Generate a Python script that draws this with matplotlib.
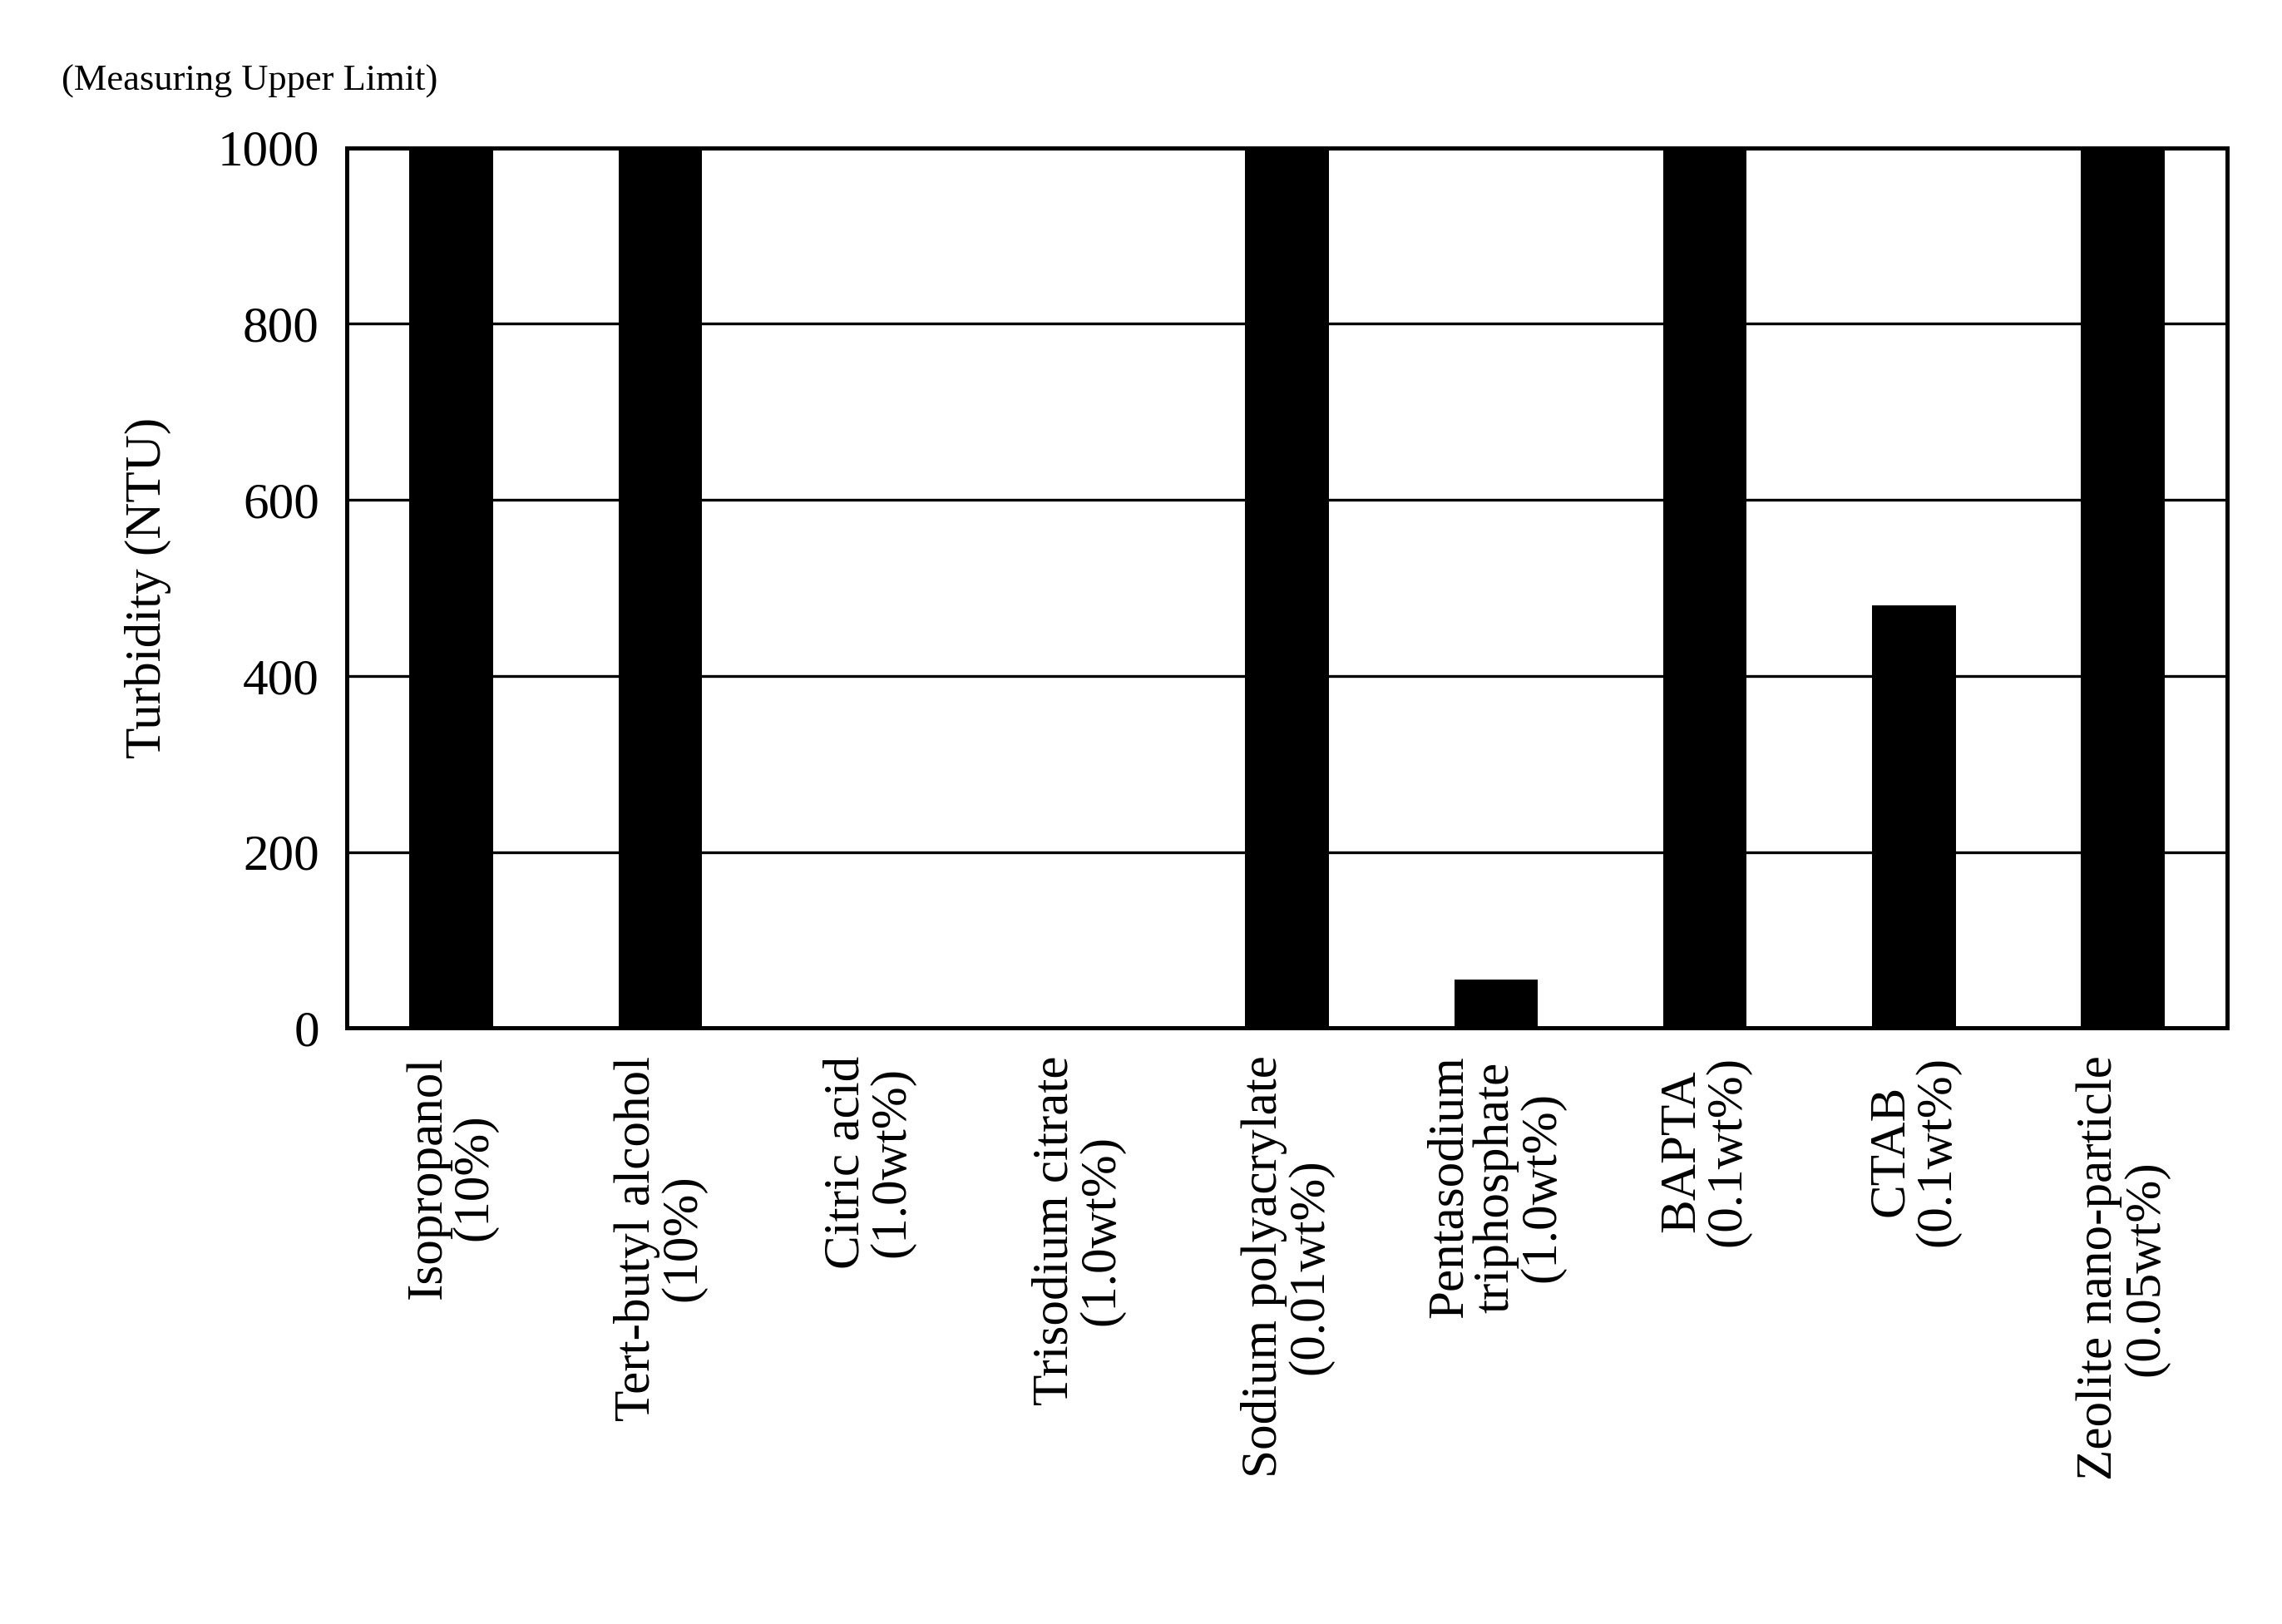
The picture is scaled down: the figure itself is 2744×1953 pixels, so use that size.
import numpy as np
import matplotlib.pyplot as plt

plt.rcParams['font.family'] = ['Liberation Serif', 'DejaVu Serif']

labels = ["Isopropanol\n(10%)", "Tert-butyl alcohol\n(10%)", "Citric acid\n(1.0wt%)",
          "Trisodium citrate\n(1.0wt%)", "Sodium polyacrylate\n(0.01wt%)",
          "Pentasodium\ntriphosphate\n(1.0wt%)", "BAPTA\n(0.1wt%)", "CTAB\n(0.1wt%)",
          "Zeolite nano-particle\n(0.05wt%)"]
turbidity = [1000, 1000, 0, 0, 1000, 55, 1000, 480, 1000]

fig = plt.figure(figsize=(13.72, 9.765), dpi=200)
ax = fig.add_axes([0.152, 0.367, 0.824, 0.542])
x = np.arange(len(labels))
ax.bar(x, turbidity, width=0.4, color='black', zorder=3)
ax.set_xlim(-0.5, len(labels) - 0.5)
ax.set_ylim(0, 1000)
ax.set_yticks(range(0, 1001, 200))
ax.yaxis.grid(True, color='black', linewidth=1.2, zorder=0)
ax.set_xticks(x)
ax.set_xticklabels(labels, rotation=90, ha='center', va='top', linespacing=1.0)
ax.tick_params(length=0, labelsize=22, pad=12)
for s in ax.spines.values():
    s.set_linewidth(1.8)
ax.set_ylabel("Turbidity (NTU)", fontsize=22, labelpad=20)
fig.text(0.027, 0.95, "(Measuring Upper Limit)", fontsize=16, va='center')
fig.savefig("out.png")
